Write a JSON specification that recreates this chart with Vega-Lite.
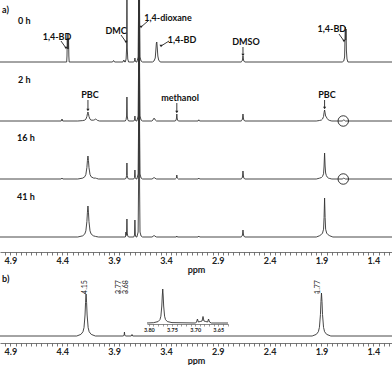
{
"$schema": "https://vega.github.io/schema/vega-lite/v6.json",
"padding": 0,
"spacing": 1,
"background": "white",
"config": {"view": {"stroke": null}, "font": "Lato"},
"datasets": {
"s0": [
{"ppm":5.0,"u":0},
{"ppm":4.357,"u":0},{"ppm":4.354,"u":6},{"ppm":4.351,"u":24},{"ppm":4.348,"u":13},{"ppm":4.345,"u":29},{"ppm":4.342,"u":13},{"ppm":4.339,"u":24},{"ppm":4.336,"u":6},{"ppm":4.333,"u":0},
{"ppm":3.915,"u":0},{"ppm":3.905,"u":1.5},{"ppm":3.895,"u":0},
{"ppm":3.815,"u":0},{"ppm":3.806,"u":2},{"ppm":3.797,"u":0},
{"ppm":3.792,"u":0},{"ppm":3.784,"u":3},{"ppm":3.779,"u":14},{"ppm":3.776,"u":70},{"ppm":3.773,"u":14},{"ppm":3.768,"u":3},{"ppm":3.76,"u":0},
{"ppm":3.71,"u":0},{"ppm":3.703,"u":1},{"ppm":3.699,"u":4},{"ppm":3.695,"u":1},{"ppm":3.688,"u":0},
{"ppm":3.68,"u":0},{"ppm":3.668,"u":5},{"ppm":3.664,"u":50},{"ppm":3.661,"u":300},{"ppm":3.657,"u":300},{"ppm":3.654,"u":50},{"ppm":3.65,"u":5},{"ppm":3.64,"u":1},{"ppm":3.625,"u":0},
{"ppm":3.53,"u":0},{"ppm":3.515,"u":1},{"ppm":3.503,"u":4},{"ppm":3.497,"u":12},{"ppm":3.492,"u":19},{"ppm":3.488,"u":20},{"ppm":3.484,"u":15},{"ppm":3.478,"u":6},{"ppm":3.47,"u":2},{"ppm":3.455,"u":0},
{"ppm":2.675,"u":0},{"ppm":2.665,"u":1},{"ppm":2.661,"u":3},{"ppm":2.657,"u":6},{"ppm":2.653,"u":3},{"ppm":2.649,"u":1},{"ppm":2.64,"u":0},
{"ppm":1.70,"u":0},{"ppm":1.685,"u":1},{"ppm":1.677,"u":5},{"ppm":1.672,"u":30},{"ppm":1.669,"u":35},{"ppm":1.666,"u":22},{"ppm":1.663,"u":33},{"ppm":1.66,"u":12},{"ppm":1.654,"u":3},{"ppm":1.645,"u":0},
{"ppm":1.2,"u":0}
],
"s2": [
{"ppm":5.0,"u":0},
{"ppm":4.41,"u":0},{"ppm":4.402,"u":2},{"ppm":4.395,"u":0},
{"ppm":4.25,"u":0},{"ppm":4.202,"u":0.4},{"ppm":4.182,"u":0.9},{"ppm":4.172,"u":1.8},{"ppm":4.162,"u":4.5},{"ppm":4.157,"u":7.2},{"ppm":4.152,"u":9},{"ppm":4.147,"u":7.2},{"ppm":4.142,"u":4.5},{"ppm":4.132,"u":1.8},{"ppm":4.122,"u":0.9},{"ppm":4.10,"u":0.8},{"ppm":4.085,"u":1.4},{"ppm":4.077,"u":2},{"ppm":4.07,"u":1.5},{"ppm":4.06,"u":0.6},{"ppm":4.04,"u":0},
{"ppm":3.792,"u":0},{"ppm":3.784,"u":1.5},{"ppm":3.779,"u":5},{"ppm":3.776,"u":24},{"ppm":3.773,"u":5},{"ppm":3.768,"u":1.5},{"ppm":3.76,"u":0},
{"ppm":3.71,"u":0},{"ppm":3.703,"u":1},{"ppm":3.699,"u":5},{"ppm":3.695,"u":1},{"ppm":3.688,"u":0},
{"ppm":3.68,"u":0},{"ppm":3.668,"u":5},{"ppm":3.664,"u":50},{"ppm":3.661,"u":300},{"ppm":3.657,"u":300},{"ppm":3.654,"u":50},{"ppm":3.65,"u":5},{"ppm":3.64,"u":1},{"ppm":3.625,"u":0},
{"ppm":3.535,"u":0},{"ppm":3.525,"u":1},{"ppm":3.518,"u":2.5},{"ppm":3.514,"u":3},{"ppm":3.51,"u":2.5},{"ppm":3.503,"u":1},{"ppm":3.49,"u":0},
{"ppm":3.31,"u":0},{"ppm":3.302,"u":1},{"ppm":3.298,"u":3},{"ppm":3.295,"u":7},{"ppm":3.292,"u":3},{"ppm":3.288,"u":1},{"ppm":3.28,"u":0},
{"ppm":3.09,"u":0},{"ppm":3.083,"u":1.2},{"ppm":3.076,"u":0},
{"ppm":2.675,"u":0},{"ppm":2.665,"u":1},{"ppm":2.661,"u":3},{"ppm":2.657,"u":7},{"ppm":2.653,"u":3},{"ppm":2.649,"u":1},{"ppm":2.64,"u":0},
{"ppm":1.95,"u":0},{"ppm":1.92,"u":0.5},{"ppm":1.90,"u":1},{"ppm":1.89,"u":2},{"ppm":1.88,"u":4.5},{"ppm":1.875,"u":8.5},{"ppm":1.87,"u":11},{"ppm":1.865,"u":8},{"ppm":1.86,"u":5},{"ppm":1.853,"u":4},{"ppm":1.845,"u":2.5},{"ppm":1.835,"u":1.2},{"ppm":1.82,"u":0.5},{"ppm":1.80,"u":0},
{"ppm":1.70,"u":0},{"ppm":1.69,"u":0.8},{"ppm":1.685,"u":1},{"ppm":1.68,"u":0.8},{"ppm":1.67,"u":0},
{"ppm":1.2,"u":0}
],
"s16": [
{"ppm":5.0,"u":0},
{"ppm":4.41,"u":0},{"ppm":4.402,"u":1},{"ppm":4.395,"u":0},
{"ppm":4.25,"u":0},{"ppm":4.202,"u":0.9},{"ppm":4.182,"u":2.3},{"ppm":4.172,"u":4.6},{"ppm":4.162,"u":11.5},{"ppm":4.157,"u":18.4},{"ppm":4.152,"u":23},{"ppm":4.147,"u":18.4},{"ppm":4.142,"u":11.5},{"ppm":4.132,"u":4.6},{"ppm":4.122,"u":2.3},{"ppm":4.10,"u":1},{"ppm":4.08,"u":0.8},{"ppm":4.077,"u":1},{"ppm":4.07,"u":0.6},{"ppm":4.05,"u":0},
{"ppm":3.792,"u":0},{"ppm":3.784,"u":1},{"ppm":3.779,"u":3.5},{"ppm":3.776,"u":16},{"ppm":3.773,"u":3.5},{"ppm":3.768,"u":1},{"ppm":3.76,"u":0},
{"ppm":3.71,"u":0},{"ppm":3.703,"u":1.5},{"ppm":3.699,"u":9},{"ppm":3.695,"u":1.5},{"ppm":3.688,"u":0},
{"ppm":3.68,"u":0},{"ppm":3.668,"u":5},{"ppm":3.664,"u":50},{"ppm":3.661,"u":300},{"ppm":3.657,"u":300},{"ppm":3.654,"u":50},{"ppm":3.65,"u":5},{"ppm":3.64,"u":1},{"ppm":3.625,"u":0},
{"ppm":3.535,"u":0},{"ppm":3.518,"u":1},{"ppm":3.514,"u":1.5},{"ppm":3.51,"u":1},{"ppm":3.49,"u":0},
{"ppm":3.31,"u":0},{"ppm":3.299,"u":1},{"ppm":3.295,"u":4},{"ppm":3.291,"u":1},{"ppm":3.28,"u":0},
{"ppm":3.09,"u":0},{"ppm":3.083,"u":1},{"ppm":3.076,"u":0},
{"ppm":2.675,"u":0},{"ppm":2.665,"u":1},{"ppm":2.661,"u":3},{"ppm":2.657,"u":8},{"ppm":2.653,"u":3},{"ppm":2.649,"u":1},{"ppm":2.64,"u":0},
{"ppm":1.95,"u":0},{"ppm":1.92,"u":0.8},{"ppm":1.90,"u":1.5},{"ppm":1.89,"u":2.6},{"ppm":1.88,"u":5.2},{"ppm":1.875,"u":13},{"ppm":1.872,"u":21},{"ppm":1.87,"u":26},{"ppm":1.868,"u":21},{"ppm":1.865,"u":13},{"ppm":1.86,"u":6},{"ppm":1.853,"u":3.5},{"ppm":1.845,"u":2},{"ppm":1.835,"u":1},{"ppm":1.82,"u":0.5},{"ppm":1.80,"u":0},
{"ppm":1.70,"u":0},{"ppm":1.69,"u":0.6},{"ppm":1.685,"u":0.8},{"ppm":1.68,"u":0.6},{"ppm":1.67,"u":0},
{"ppm":1.2,"u":0}
],
"s41": [
{"ppm":5.0,"u":0},
{"ppm":4.25,"u":0},{"ppm":4.202,"u":1.2},{"ppm":4.182,"u":3.1},{"ppm":4.172,"u":6.2},{"ppm":4.162,"u":15.5},{"ppm":4.157,"u":24.8},{"ppm":4.152,"u":31},{"ppm":4.147,"u":24.8},{"ppm":4.142,"u":15.5},{"ppm":4.132,"u":6.2},{"ppm":4.122,"u":3.1},{"ppm":4.10,"u":1.2},{"ppm":4.08,"u":0.6},{"ppm":4.05,"u":0},
{"ppm":3.792,"u":0},{"ppm":3.788,"u":1},{"ppm":3.786,"u":5},{"ppm":3.784,"u":1.5},{"ppm":3.779,"u":4},{"ppm":3.776,"u":18},{"ppm":3.773,"u":4},{"ppm":3.768,"u":1},{"ppm":3.76,"u":0},
{"ppm":3.71,"u":0},{"ppm":3.703,"u":2},{"ppm":3.699,"u":17},{"ppm":3.695,"u":2},{"ppm":3.688,"u":0},
{"ppm":3.68,"u":0},{"ppm":3.668,"u":5},{"ppm":3.664,"u":50},{"ppm":3.661,"u":300},{"ppm":3.657,"u":300},{"ppm":3.654,"u":50},{"ppm":3.65,"u":5},{"ppm":3.64,"u":1},{"ppm":3.625,"u":0},
{"ppm":3.535,"u":0},{"ppm":3.518,"u":1},{"ppm":3.514,"u":1.5},{"ppm":3.51,"u":1},{"ppm":3.49,"u":0},
{"ppm":3.30,"u":0},{"ppm":3.295,"u":1},{"ppm":3.29,"u":0},
{"ppm":3.09,"u":0},{"ppm":3.083,"u":1},{"ppm":3.076,"u":0},
{"ppm":2.675,"u":0},{"ppm":2.665,"u":1},{"ppm":2.661,"u":3},{"ppm":2.657,"u":7},{"ppm":2.653,"u":3},{"ppm":2.649,"u":1},{"ppm":2.64,"u":0},
{"ppm":1.95,"u":0},{"ppm":1.92,"u":1.2},{"ppm":1.90,"u":2.6},{"ppm":1.89,"u":3.9},{"ppm":1.88,"u":7.8},{"ppm":1.875,"u":19.5},{"ppm":1.872,"u":31},{"ppm":1.87,"u":39},{"ppm":1.868,"u":31},{"ppm":1.865,"u":19.5},{"ppm":1.86,"u":7.8},{"ppm":1.85,"u":3.9},{"ppm":1.84,"u":2.6},{"ppm":1.82,"u":1.2},{"ppm":1.79,"u":0},
{"ppm":1.2,"u":0}
],
"sb": [
{"ppm":5.0,"u":0},
{"ppm":4.26,"u":0},{"ppm":4.22,"u":1.6},{"ppm":4.20,"u":4.2},{"ppm":4.19,"u":8.4},{"ppm":4.18,"u":21},{"ppm":4.175,"u":33.6},{"ppm":4.17,"u":42},{"ppm":4.165,"u":33.6},{"ppm":4.16,"u":21},{"ppm":4.15,"u":8.4},{"ppm":4.14,"u":4.2},{"ppm":4.12,"u":1.6},{"ppm":4.08,"u":0},
{"ppm":3.81,"u":0},{"ppm":3.803,"u":1},{"ppm":3.80,"u":4},{"ppm":3.797,"u":1},{"ppm":3.79,"u":0},
{"ppm":3.735,"u":0},{"ppm":3.727,"u":1.5},{"ppm":3.72,"u":0},
{"ppm":1.99,"u":0},{"ppm":1.95,"u":1.6},{"ppm":1.93,"u":4.3},{"ppm":1.92,"u":8.6},{"ppm":1.91,"u":21.5},{"ppm":1.905,"u":34.4},{"ppm":1.90,"u":43},{"ppm":1.895,"u":34.4},{"ppm":1.89,"u":21.5},{"ppm":1.88,"u":8.6},{"ppm":1.87,"u":4.3},{"ppm":1.85,"u":1.6},{"ppm":1.81,"u":0},
{"ppm":1.2,"u":0}
],
"si": [
{"ppm":3.804,"u":0},{"ppm":3.79,"u":0.3},{"ppm":3.78,"u":1.4},{"ppm":3.776,"u":3.4},{"ppm":3.774,"u":6.8},{"ppm":3.772,"u":17},{"ppm":3.771,"u":27},{"ppm":3.77,"u":34},{"ppm":3.769,"u":27},{"ppm":3.768,"u":17},{"ppm":3.766,"u":6.8},{"ppm":3.764,"u":3.4},{"ppm":3.76,"u":1.4},{"ppm":3.75,"u":0.4},{"ppm":3.70,"u":0},
{"ppm":3.699,"u":0},{"ppm":3.697,"u":1},{"ppm":3.695,"u":4},{"ppm":3.693,"u":1},{"ppm":3.689,"u":1.5},{"ppm":3.685,"u":2},{"ppm":3.683,"u":6.5},{"ppm":3.681,"u":2},{"ppm":3.677,"u":1.5},{"ppm":3.673,"u":1},{"ppm":3.671,"u":4},{"ppm":3.669,"u":1},{"ppm":3.665,"u":0},
{"ppm":3.629,"u":0}
],
"t0c": [
{"ppm":4.45,"u":25,"t":"1,4-BD"},
{"ppm":3.881,"u":31,"t":"DMC"},
{"ppm":3.38,"u":44,"t":"1,4-dioxane"},
{"ppm":3.245,"u":22,"t":"1,4-BD"},
{"ppm":2.628,"u":20,"t":"DMSO"},
{"ppm":1.80,"u":33,"t":"1,4-BD"}
],
"t0l": [
{"ppm":4.98,"u":52,"t":"a)"},
{"ppm":4.826,"u":41,"t":"0 h"}
],
"a0": [
{"ppm":4.364,"u":14,"ppm2":4.412,"u2":21},
{"ppm":3.785,"u":20,"ppm2":3.833,"u2":27},
{"ppm":3.64,"u":35,"ppm2":3.573,"u2":41},
{"ppm":3.447,"u":16,"ppm2":3.37,"u2":21},
{"ppm":2.657,"u":7,"ppm2":2.657,"u2":15},
{"ppm":1.683,"u":21,"ppm2":1.731,"u2":28}
],
"t2c": [
{"ppm":4.132,"u":26,"t":"PBC"},
{"ppm":3.264,"u":23,"t":"methanol"},
{"ppm":1.847,"u":26,"t":"PBC"}
],
"t2l": [{"ppm":4.826,"u":41,"t":"2 h"}],
"a2": [
{"ppm":4.152,"u":11,"ppm2":4.152,"u2":21},
{"ppm":3.295,"u":9,"ppm2":3.295,"u2":18},
{"ppm":1.87,"u":13,"ppm2":1.87,"u2":21}
],
"c2": [{"ppm":1.69,"u":0}],
"t16l": [{"ppm":4.836,"u":41,"t":"16 h"}],
"c16": [{"ppm":1.69,"u":0}],
"t41l": [{"ppm":4.836,"u":40,"t":"41 h"}],
"bl": [
{"ppm":4.18,"u":49,"t":"4.15"},
{"ppm":3.85,"u":49,"t":"3.77"},
{"ppm":3.785,"u":49,"t":"3.68"},
{"ppm":1.933,"u":49,"t":"1.77"}
],
"bs": [
{"ppm":4.18,"u":45,"u2":42},
{"ppm":3.85,"u":45,"u2":42},
{"ppm":3.785,"u":45,"u2":42},
{"ppm":1.933,"u":45,"u2":42}
],
"blab": [{"ppm":4.98,"u":57,"t":"b)"}]
},
"vconcat": [
{
"width": 392,
"height": 252,
"encoding": {
"x": {"field": "ppm", "type": "quantitative",
"scale": {"domain": [5.0, 1.22], "nice": false, "zero": false},
"axis": {"title": "ppm", "grid": false,
"values": [4.95,4.9,4.85,4.8,4.75,4.7,4.65,4.6,4.55,4.5,4.45,4.4,4.35,4.3,4.25,4.2,4.15,4.1,4.05,4.0,3.95,3.9,3.85,3.8,3.75,3.7,3.65,3.6,3.55,3.5,3.45,3.4,3.35,3.3,3.25,3.2,3.15,3.1,3.05,3.0,2.95,2.9,2.85,2.8,2.75,2.7,2.65,2.6,2.55,2.5,2.45,2.4,2.35,2.3,2.25,2.2,2.15,2.1,2.05,2.0,1.95,1.9,1.85,1.8,1.75,1.7,1.65,1.6,1.55,1.5,1.45,1.4,1.35,1.3,1.25],
"labelExpr": "(round(datum.value*100) - 40) % 50 == 0 ? format(datum.value, '.1f') : ''",
"labelOverlap": false, "labelFlush": false,
"labelFont": "Lato", "labelFontWeight": "bold", "labelFontSize": 9, "labelColor": "#222", "labelPadding": 1,
"tickSize": 3, "tickColor": "#555", "tickWidth": 0.8, "domainColor": "#555", "domainWidth": 0.8,
"titleFont": "Lato", "titleFontWeight": "bold", "titleFontSize": 9, "titlePadding": 0, "titleColor": "#222"}}
},
"layer": [
{
"encoding": {"y": {"field": "u", "type": "quantitative", "scale": {"domain": [0, 60], "range": [62, 2]}, "axis": null}},
"layer": [
{"data": {"name": "s0"}, "mark": {"type": "line", "clip": true, "color": "#333", "strokeWidth": 0.9}, "encoding": {}},
{"data": {"name": "t0c"}, "mark": {"type": "text", "font": "Lato", "fontWeight": "bold", "fontSize": 9, "color": "#111", "align": "center", "baseline": "middle"}, "encoding": {"text": {"field": "t"}}},
{"data": {"name": "t0l"}, "mark": {"type": "text", "font": "Lato", "fontWeight": "bold", "fontSize": 9, "color": "#111", "align": "left", "baseline": "middle"}, "encoding": {"text": {"field": "t"}}},
{"data": {"name": "a0"}, "mark": {"type": "rule", "color": "#222", "strokeWidth": 0.9}, "encoding": {"x2": {"field": "ppm2"}, "y2": {"field": "u2"}}},
{"data": {"name": "a0"}, "mark": {"type": "point", "shape": "triangle-down", "filled": true, "size": 10, "color": "#222", "opacity": 1}, "encoding": {}}
]
},
{
"encoding": {"y": {"field": "u", "type": "quantitative", "scale": {"domain": [0, 60], "range": [121, 61]}, "axis": null}},
"layer": [
{"data": {"name": "s2"}, "mark": {"type": "line", "clip": true, "color": "#333", "strokeWidth": 0.9}, "encoding": {}},
{"data": {"name": "t2c"}, "mark": {"type": "text", "font": "Lato", "fontWeight": "bold", "fontSize": 9, "color": "#111", "align": "center", "baseline": "middle"}, "encoding": {"text": {"field": "t"}}},
{"data": {"name": "t2l"}, "mark": {"type": "text", "font": "Lato", "fontWeight": "bold", "fontSize": 9, "color": "#111", "align": "left", "baseline": "middle"}, "encoding": {"text": {"field": "t"}}},
{"data": {"name": "a2"}, "mark": {"type": "rule", "color": "#222", "strokeWidth": 0.9}, "encoding": {"x2": {"field": "ppm2"}, "y2": {"field": "u2"}}},
{"data": {"name": "a2"}, "mark": {"type": "point", "shape": "triangle-down", "filled": true, "size": 10, "color": "#222", "opacity": 1}, "encoding": {}},
{"data": {"name": "c2"}, "mark": {"type": "point", "shape": "circle", "filled": false, "size": 110, "color": "#222", "strokeWidth": 0.9, "opacity": 1}, "encoding": {}}
]
},
{
"encoding": {"y": {"field": "u", "type": "quantitative", "scale": {"domain": [0, 60], "range": [179, 119]}, "axis": null}},
"layer": [
{"data": {"name": "s16"}, "mark": {"type": "line", "clip": true, "color": "#333", "strokeWidth": 0.9}, "encoding": {}},
{"data": {"name": "t16l"}, "mark": {"type": "text", "font": "Lato", "fontWeight": "bold", "fontSize": 9, "color": "#111", "align": "left", "baseline": "middle"}, "encoding": {"text": {"field": "t"}}},
{"data": {"name": "c16"}, "mark": {"type": "point", "shape": "circle", "filled": false, "size": 110, "color": "#222", "strokeWidth": 0.9, "opacity": 1}, "encoding": {}}
]
},
{
"encoding": {"y": {"field": "u", "type": "quantitative", "scale": {"domain": [0, 60], "range": [237, 177]}, "axis": null}},
"layer": [
{"data": {"name": "s41"}, "mark": {"type": "line", "clip": true, "color": "#333", "strokeWidth": 0.9}, "encoding": {}},
{"data": {"name": "t41l"}, "mark": {"type": "text", "font": "Lato", "fontWeight": "bold", "fontSize": 9, "color": "#111", "align": "left", "baseline": "middle"}, "encoding": {"text": {"field": "t"}}}
]
}
],
"resolve": {"scale": {"y": "independent"}}
},
{
"width": 392,
"height": 66,
"layer": [
{
"encoding": {
"x": {"field": "ppm", "type": "quantitative",
"scale": {"domain": [5.0, 1.22], "nice": false, "zero": false},
"axis": {"title": "ppm", "grid": false,
"values": [4.95,4.9,4.85,4.8,4.75,4.7,4.65,4.6,4.55,4.5,4.45,4.4,4.35,4.3,4.25,4.2,4.15,4.1,4.05,4.0,3.95,3.9,3.85,3.8,3.75,3.7,3.65,3.6,3.55,3.5,3.45,3.4,3.35,3.3,3.25,3.2,3.15,3.1,3.05,3.0,2.95,2.9,2.85,2.8,2.75,2.7,2.65,2.6,2.55,2.5,2.45,2.4,2.35,2.3,2.25,2.2,2.15,2.1,2.05,2.0,1.95,1.9,1.85,1.8,1.75,1.7,1.65,1.6,1.55,1.5,1.45,1.4,1.35,1.3,1.25],
"labelExpr": "(round(datum.value*100) - 40) % 50 == 0 ? format(datum.value, '.1f') : ''",
"labelOverlap": false, "labelFlush": false,
"labelFont": "Lato", "labelFontWeight": "bold", "labelFontSize": 9, "labelColor": "#222", "labelPadding": 1,
"tickSize": 3, "tickColor": "#555", "tickWidth": 0.8, "domainColor": "#555", "domainWidth": 0.8,
"titleFont": "Lato", "titleFontWeight": "bold", "titleFontSize": 9, "titlePadding": 0, "titleColor": "#222"}},
"y": {"field": "u", "type": "quantitative", "scale": {"domain": [0, 60], "range": [59, -1]}, "axis": null}
},
"layer": [
{"data": {"name": "sb"}, "mark": {"type": "line", "clip": true, "color": "#333", "strokeWidth": 0.9}, "encoding": {}},
{"data": {"name": "bl"}, "mark": {"type": "text", "font": "Lato", "fontSize": 7, "color": "#222", "angle": 270, "align": "center", "baseline": "middle"}, "encoding": {"text": {"field": "t"}}},
{"data": {"name": "bs"}, "mark": {"type": "rule", "color": "#444", "strokeWidth": 0.8}, "encoding": {"y2": {"field": "u2"}}},
{"data": {"name": "blab"}, "mark": {"type": "text", "font": "Lato", "fontWeight": "bold", "fontSize": 9, "color": "#111", "align": "left", "baseline": "middle"}, "encoding": {"text": {"field": "t"}}}
]
},
{
"encoding": {
"x": {"field": "ppm", "type": "quantitative",
"scale": {"domain": [3.804, 3.629], "range": [147, 228], "nice": false, "zero": false},
"axis": {"orient": "bottom", "offset": -19, "title": null, "grid": false,
"values": [3.80,3.79,3.78,3.77,3.76,3.75,3.74,3.73,3.72,3.71,3.70,3.69,3.68,3.67,3.66,3.65,3.64,3.63],
"labelExpr": "round(datum.value*100) % 5 == 0 ? format(datum.value, '.2f') : ''",
"labelOverlap": false, "labelFlush": false,
"labelFont": "Lato", "labelFontWeight": "bold", "labelFontSize": 5.5, "labelColor": "#222", "labelPadding": 1,
"tickSize": 2, "tickColor": "#555", "tickWidth": 0.6, "domainColor": "#555", "domainWidth": 0.7}},
"y": {"field": "u", "type": "quantitative", "scale": {"domain": [0, 34], "range": [46, 12]}, "axis": null}
},
"layer": [
{"data": {"name": "si"}, "mark": {"type": "line", "clip": true, "color": "#333", "strokeWidth": 0.9}, "encoding": {}}
]
}
],
"resolve": {"scale": {"x": "independent", "y": "independent"}, "axis": {"x": "independent"}}
}
]
}
